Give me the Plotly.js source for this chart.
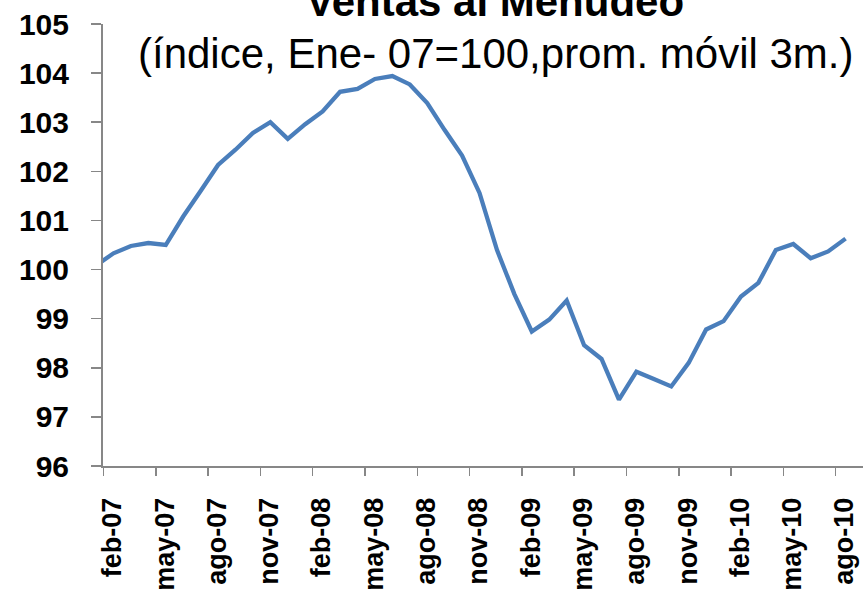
<!DOCTYPE html>
<html>
<head>
<meta charset="utf-8">
<script src="https://cdn.plot.ly/plotly-3.0.1.min.js"></script>
<style>
  html, body { margin: 0; padding: 0; background: #ffffff; }
  #plot { width: 863px; height: 590px; }
</style>
</head>
<body>
<div id="plot"></div>
<script>
// Meses (ene-07 .. ago-10) y valores del índice (prom. móvil 3m.)
let months = [
    'ene-07', 'feb-07', 'mar-07', 'abr-07', 'may-07', 'jun-07', 'jul-07', 'ago-07', 'sep-07', 'oct-07', 'nov-07', 'dic-07',
    'ene-08', 'feb-08', 'mar-08', 'abr-08', 'may-08', 'jun-08', 'jul-08', 'ago-08', 'sep-08', 'oct-08', 'nov-08', 'dic-08',
    'ene-09', 'feb-09', 'mar-09', 'abr-09', 'may-09', 'jun-09', 'jul-09', 'ago-09', 'sep-09', 'oct-09', 'nov-09', 'dic-09',
    'ene-10', 'feb-10', 'mar-10', 'abr-10', 'may-10', 'jun-10', 'jul-10', 'ago-10'
];

let ventas = [
    100.08, 100.33, 100.48, 100.54, 100.50, 101.08, 101.60, 102.13, 102.44, 102.78, 103.00, 102.66,
    102.96, 103.22, 103.62, 103.68, 103.88, 103.94, 103.77, 103.39, 102.84, 102.32, 101.56, 100.40,
    99.50, 98.74, 98.98, 99.37, 98.46, 98.18, 97.35, 97.92, 97.77, 97.62, 98.10, 98.78,
    98.95, 99.45, 99.73, 100.40, 100.52, 100.23, 100.37, 100.63
];

let tickLabels = ['feb-07', 'may-07', 'ago-07', 'nov-07', 'feb-08', 'may-08', 'ago-08', 'nov-08',
    'feb-09', 'may-09', 'ago-09', 'nov-09', 'feb-10', 'may-10', 'ago-10'];

let yTicks = [96, 97, 98, 99, 100, 101, 102, 103, 104, 105];

let titleText = 'Ventas al Menudeo';
let subtitleText = '(índice, Ene- 07=100,prom. móvil 3m.)';

function plotVentas() {
    let xIdx = months.map((m, i) => i);
    // las marcas de eje caen al inicio de cada mes, los puntos a mitad de mes
    let tickPos = tickLabels.map(t => months.indexOf(t) - 0.57);

    let trace = {
        x: xIdx,
        y: ventas,
        mode: 'lines',
        type: 'scatter',
        line: { color: '#4a7ebb', width: 4.3 },
        hoverinfo: 'skip'
    };

    let axisGray = '#878787';
    let font = 'Liberation Sans, Arial, sans-serif';

    let layout = {
        width: 863,
        height: 590,
        margin: { l: 103, r: 0, t: 24, b: 124 },
        paper_bgcolor: '#ffffff',
        plot_bgcolor: '#ffffff',
        showlegend: false,
        font: { family: font, color: '#000000' },
        xaxis: {
            range: [0.4, 44.0],
            tickmode: 'array',
            tickvals: tickPos,
            ticktext: tickLabels,
            tickangle: -90,
            ticks: 'outside',
            ticklen: 8,
            tickwidth: 1.5,
            tickcolor: axisGray,
            ticklabelstandoff: 11,
            ticklabelshift: 9,
            showline: true,
            linecolor: axisGray,
            linewidth: 2,
            showgrid: false,
            zeroline: false,
            tickfont: { family: font, size: 27, color: '#000000', weight: 'bold' }
        },
        yaxis: {
            range: [96, 105],
            tickmode: 'array',
            tickvals: yTicks,
            ticktext: yTicks.map(String),
            ticks: 'outside',
            ticklen: 10,
            tickwidth: 1.5,
            tickcolor: axisGray,
            ticklabelstandoff: 16,
            showline: true,
            linecolor: axisGray,
            linewidth: 2,
            showgrid: false,
            zeroline: false,
            tickfont: { family: font, size: 30, color: '#000000', weight: 'bold' }
        },
        annotations: [
            {
                text: '<b>' + titleText + '</b>',
                xref: 'paper', yref: 'paper',
                x: 0.516, y: 1.052,
                xanchor: 'center', yanchor: 'middle',
                showarrow: false,
                font: { family: font, size: 42, color: '#000000' }
            },
            {
                text: subtitleText,
                xref: 'paper', yref: 'paper',
                x: 0.516, y: 0.934,
                xanchor: 'center', yanchor: 'middle',
                showarrow: false,
                font: { family: font, size: 42, color: '#000000' }
            }
        ]
    };

    Plotly.newPlot('plot', [trace], layout, { staticPlot: true, displayModeBar: false });
}

plotVentas();
</script>
</body>
</html>
